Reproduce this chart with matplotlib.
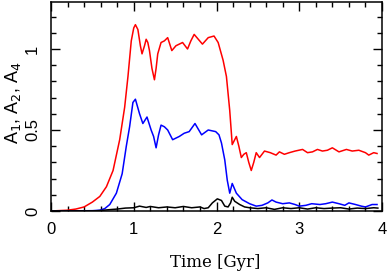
import numpy as np
import matplotlib
matplotlib.use("Agg")
import matplotlib.pyplot as plt
from matplotlib.ticker import MultipleLocator

# A1 (red)
t_red = [0.0, 0.2, 0.3, 0.4, 0.5, 0.59, 0.67, 0.75, 0.83, 0.89, 0.93, 0.97, 1.0, 1.02,
         1.05, 1.08, 1.10, 1.13, 1.15, 1.17, 1.19, 1.22, 1.25, 1.27, 1.29, 1.33, 1.37,
         1.41, 1.46, 1.51, 1.59, 1.65, 1.69, 1.73, 1.78, 1.83, 1.90, 1.97, 2.02, 2.08,
         2.12, 2.16, 2.19, 2.21, 2.24, 2.27, 2.30, 2.33, 2.36, 2.39, 2.42, 2.45, 2.48,
         2.52, 2.58, 2.65, 2.72, 2.76, 2.82, 2.88, 2.95, 3.04, 3.10, 3.16, 3.22, 3.28,
         3.34, 3.40, 3.48, 3.57, 3.64, 3.72, 3.80, 3.84, 3.90, 3.94]
a1 = [0.0, 0.005, 0.012, 0.025, 0.055, 0.09, 0.15, 0.25, 0.44, 0.64, 0.83, 1.05, 1.13, 1.15,
      1.12, 1.02, 0.97, 1.02, 1.06, 1.04, 0.99, 0.88, 0.81, 0.88, 0.97, 1.04, 1.05,
      1.07, 0.99, 1.02, 1.04, 1.00, 1.05, 1.09, 1.06, 1.03, 1.07, 1.08, 1.04, 0.93,
      0.83, 0.62, 0.41, 0.43, 0.46, 0.40, 0.33, 0.35, 0.36, 0.30, 0.25, 0.30, 0.36,
      0.33, 0.37, 0.36, 0.345, 0.365, 0.35, 0.36, 0.37, 0.38, 0.36, 0.365, 0.38, 0.37,
      0.375, 0.39, 0.365, 0.38, 0.37, 0.375, 0.36, 0.345, 0.36, 0.355]

# A2 (blue)
t_blue = [0.0, 0.5, 0.59, 0.65, 0.71, 0.79, 0.86, 0.91, 0.95, 0.99, 1.02, 1.07, 1.11, 1.16,
          1.21, 1.24, 1.27, 1.30, 1.33, 1.37, 1.41, 1.47, 1.55, 1.61, 1.67, 1.74, 1.82,
          1.90, 1.99, 2.03, 2.06, 2.10, 2.13, 2.16, 2.19, 2.24, 2.31, 2.40, 2.48, 2.55,
          2.62, 2.67, 2.72, 2.80, 2.88, 2.95, 3.0, 3.08, 3.15, 3.25, 3.32, 3.40, 3.48,
          3.55, 3.6, 3.68, 3.75, 3.8, 3.88, 3.94]
a2 = [0.0, 0.002, 0.005, 0.015, 0.04, 0.11, 0.23, 0.40, 0.52, 0.67, 0.69, 0.60, 0.54, 0.58,
      0.50, 0.46, 0.39, 0.47, 0.53, 0.52, 0.50, 0.44, 0.46, 0.48, 0.49, 0.54, 0.47,
      0.50, 0.49, 0.47, 0.42, 0.315, 0.19, 0.11, 0.17, 0.11, 0.07, 0.045, 0.03, 0.035,
      0.05, 0.068, 0.055, 0.045, 0.05, 0.04, 0.03, 0.035, 0.045, 0.04, 0.045, 0.055, 0.045,
      0.035, 0.05, 0.04, 0.03, 0.025, 0.04, 0.04]

# A4 (black)
t_black = [0.0, 0.5, 0.6, 0.7, 0.8, 0.9, 1.0, 1.07, 1.15, 1.2, 1.3, 1.4, 1.5, 1.6, 1.7,
           1.8, 1.85, 1.9, 1.95, 2.01, 2.06, 2.10, 2.14, 2.17, 2.19, 2.22, 2.28, 2.34,
           2.40, 2.5, 2.6, 2.7, 2.8, 2.9, 3.0, 3.1, 3.2, 3.3, 3.4, 3.5, 3.6, 3.7, 3.8,
           3.9, 3.95]
a4 = [0.0, 0.0, 0.003, 0.008, 0.012, 0.018, 0.02, 0.03, 0.022, 0.028, 0.02, 0.025, 0.02,
      0.028, 0.02, 0.025, 0.015, 0.02, 0.05, 0.075, 0.065, 0.03, 0.025, 0.05, 0.085,
      0.06, 0.04, 0.025, 0.02, 0.015, 0.02, 0.01, 0.02, 0.015, 0.02, 0.012, 0.02, 0.015,
      0.018, 0.02, 0.012, 0.018, 0.015, 0.02, 0.018]

fig = plt.figure(figsize=(3.88, 2.73), dpi=100)
ax = fig.add_axes([51/388, 1-211/273, 331/388, 209/273])

ax.plot(t_red, a1, color='red', lw=1.1)
ax.plot(t_blue, a2, color='blue', lw=1.1)
ax.plot(t_black, a4, color='black', lw=1.1)

ax.set_xlim(0, 4)
ax.set_ylim(0, 1.29)
ax.xaxis.set_major_locator(MultipleLocator(1))
ax.xaxis.set_minor_locator(MultipleLocator(0.2))
ax.yaxis.set_major_locator(MultipleLocator(0.5))
ax.yaxis.set_minor_locator(MultipleLocator(0.1))
ax.set_yticks([0, 0.5, 1])
ax.set_yticklabels(['0', '0.5', '1'])

ax.tick_params(which='both', direction='in', top=True, right=True, width=1.0,
               labelsize=12, pad=8)
ax.tick_params(which='major', length=6.5)
ax.tick_params(which='minor', length=3.5)
ax.tick_params(axis='y', labelrotation=90)
for lab in ax.get_yticklabels():
    lab.set_va('center')
    lab.set_family('Liberation Sans')
for lab in ax.get_xticklabels():
    lab.set_family('Liberation Sans')
for s in ax.spines.values():
    s.set_linewidth(1.1)

ax.set_xlabel('Time [Gyr]', family='DejaVu Serif', fontsize=12)
ax.xaxis.set_label_coords(0.495, -0.205)
ax.set_ylabel(r'A$_1$, A$_2$, A$_4$', family='Liberation Sans', fontsize=13)
ax.yaxis.set_label_coords(-0.085, 0.52)

fig.savefig('out.png', dpi=100)
